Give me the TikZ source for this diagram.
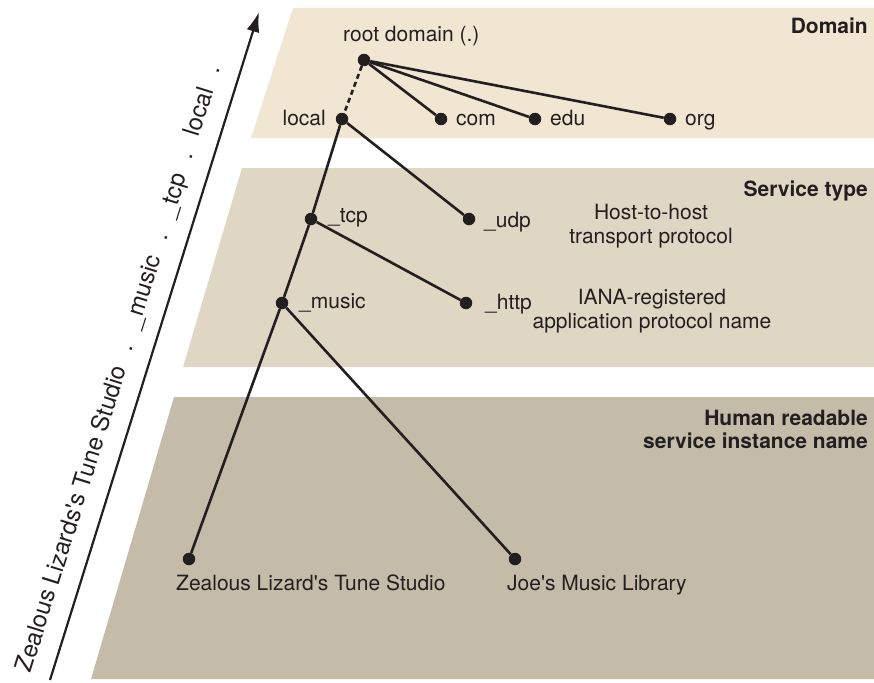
\documentclass[tikz,border=0pt]{standalone}
\usepackage{fontspec}
\setmainfont{TeX Gyre Heros}
\usetikzlibrary{arrows.meta, positioning, calc}
\definecolor{domainbg}{RGB}{240,230,210}
\definecolor{servicebg}{RGB}{223,215,196}
\definecolor{instancebg}{RGB}{196,188,169}
\definecolor{ink}{RGB}{35,31,32}
\newcommand{\namesep}{\hspace{0.7em}.\hspace{0.7em}}

\begin{document}
\begin{tikzpicture}[x=1pt, y=-1pt,
		dot/.style={circle, fill=ink, inner sep=0pt, minimum size=12.5pt},
		lbl/.style={font=\fontsize{21}{24}\selectfont, text=ink, inner sep=0pt},
		heading/.style={lbl, font=\bfseries\fontsize{21}{23}\selectfont, align=right, anchor=base east},
		note/.style={lbl, align=center, anchor=base},
		fqdn/.style={font=\fontsize{24}{27}\selectfont, text=ink, inner sep=0pt},
		edge/.style={draw=ink, line width=2.6pt},
		namearrow/.style={-{Latex[length=20pt,width=13pt]}, draw=ink, line width=2.2pt}
	]
		\useasboundingbox (0,0) rectangle (874,682);
		% layers
		\fill[domainbg] (293,8) -- (874,8) -- (874,138) -- (251,138) -- cycle;
		\fill[servicebg] (242,168) -- (874,168) -- (874,367) -- (183,367) -- cycle;
		\fill[instancebg] (174,397) -- (874,397) -- (874,679) -- (91,679) -- cycle;

		\node[heading] (domainhead) at (868,34) {Domain};
		\node[heading] (servicehead) at (868,196) {Service type};
		\node[heading] (instancehead) at (868,448) {Human readable\\service instance name};

		% tree
		\node[dot] (root) at (364,60) {};
		\node[dot] (local) at (342,119) {};
		\node[dot] (com) at (441,119) {};
		\node[dot] (edu) at (535,119) {};
		\node[dot] (org) at (670,119) {};
		\node[dot] (tcp) at (311,219) {};
		\node[dot] (udp) at (469,219) {};
		\node[dot] (music) at (282,303) {};
		\node[dot] (http) at (466,303) {};
		\node[dot] (zls) at (189,559) {};
		\node[dot] (joe) at (515,559) {};
		\foreach \a/\b in {root/com,root/edu,root/org,local/tcp,local/udp,tcp/music,tcp/http,music/zls,music/joe}
			\draw[edge] (\a) -- (\b);
		\draw[edge, dash pattern=on 5pt off 3.5pt] (root) -- (local);

		\node[lbl, anchor=base west] (rootname) at ([xshift=-21pt, yshift=18pt]root.center) {root domain (.)};
		\node[lbl, anchor=base east] (localname) at ([xshift=-16pt, yshift=-6pt]local.center) {local};
		\node[lbl, anchor=base west] (comname) at ([xshift=15pt, yshift=-6pt]com.center) {com};
		\node[lbl, anchor=base west] (eduname) at ([xshift=15pt, yshift=-6pt]edu.center) {edu};
		\node[lbl, anchor=base west] (orgname) at ([xshift=15pt, yshift=-6pt]org.center) {org};
		\node[lbl, anchor=base west] (tcpname) at ([xshift=17pt, yshift=-3pt]tcp.center) {\_tcp};
		\node[lbl, anchor=base west] (udpname) at ([xshift=15pt, yshift=-8pt]udp.center) {\_udp};
		\node[lbl, anchor=base west] (musicname) at ([xshift=17pt, yshift=-5pt]music.center) {\_music};
		\node[lbl, anchor=base west] (httpname) at ([xshift=19pt, yshift=-6pt]http.center) {\_http};
		\node[lbl, anchor=base west] (zlsname) at ([xshift=-13pt, yshift=-31pt]zls.center) {Zealous Lizard\textquotesingle s Tune Studio};
		\node[lbl, anchor=base west] (joename) at ([xshift=-8pt, yshift=-31pt]joe.center) {Joe\textquotesingle s Music Library};

		\node[note] (transport) at (651,243) {Host-to-host\\transport protocol};
		\node[note] (iana) at (652,328) {IANA-registered\\application protocol name};

		% instance name read upwards
		\coordinate (tail) at (50,680);
		\coordinate (tip) at (259,12);
		\draw[namearrow] (tail) -- (tip);
		\node[fqdn, anchor=base west, rotate=72.6] (fullname) at ($(tail)!20pt!90:(tip)$)
			{Zealous Lizards\textquotesingle s Tune Studio\namesep\_music\namesep\_tcp\namesep local\hspace{0.7em}.};
	\end{tikzpicture}
\end{document}
